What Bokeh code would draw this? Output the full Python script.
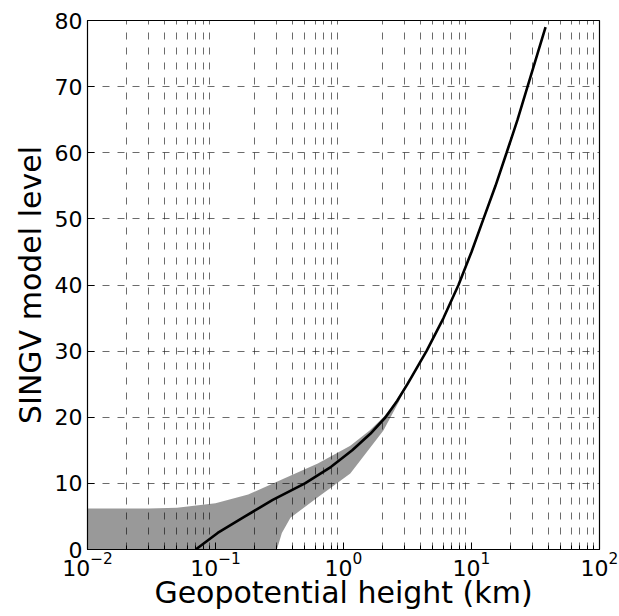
from bokeh.plotting import figure
from bokeh.models import FixedTicker, Range1d
from bokeh.embed import file_html
from bokeh.resources import INLINE

# ---- data ----
model_level = [0, 2.5, 5, 7.5, 10, 12.5, 15, 17.5, 20, 22.5, 25, 30, 35, 40,
               45, 50, 55, 60, 65, 70, 75, 79]
height_km = [0.07, 0.104, 0.17, 0.28, 0.50, 0.80, 1.17, 1.62, 2.13, 2.63, 3.16,
             4.45, 6.04, 7.91, 10.0, 12.4, 15.4, 18.8, 22.9, 27.4, 32.8, 37.9]

# spread band: left (low-height) edge and right (high-height) edge, bottom to top
band_left_km = [0.001, 0.001, 0.03, 0.05, 0.1, 0.18, 0.34, 0.63, 1.13, 1.6, 2.05, 2.55, 3.3]
band_left_level = [0, 6.2, 6.2, 6.3, 7.0, 8.3, 10.7, 13.0, 15.7, 18.0, 20.0, 22.3, 26.0]
band_right_km = [0.30, 0.305, 0.33, 0.385, 0.63, 1.13, 2.05, 2.7, 3.3]
band_right_level = [0, 0.3, 2.5, 4.8, 7.9, 11.5, 18.0, 22.3, 26.0]

x_decades = [1e-2, 1e-1, 1e0, 1e1, 1e2]
y_ticks = [0, 10, 20, 30, 40, 50, 60, 70, 80]
x_minor = [m * d for d in x_decades[:-1] for m in range(2, 10)]

FONT = "DejaVu Sans"

p = figure(width=619, height=616, x_axis_type="log",
           x_range=Range1d(1e-2, 1e2), y_range=Range1d(0, 80),
           toolbar_location=None, output_backend="svg",
           min_border_left=87, min_border_right=20,
           min_border_top=20, min_border_bottom=67)
p.background_fill_color = "white"
p.border_fill_color = "white"
p.outline_line_color = "black"
p.outline_line_width = 1.2

# band polygon
band_x = band_left_km + band_right_km[::-1]
band_y = band_left_level + band_right_level[::-1]
p.patch(band_x, band_y, fill_color="black", fill_alpha=0.4, line_color=None)

# mean curve
p.line(height_km, model_level, line_color="black", line_width=2.6)

# grids
p.xgrid.ticker = FixedTicker(ticks=x_minor)
p.xgrid.grid_line_color = "#222222"
p.xgrid.grid_line_width = 0.9
p.xgrid.grid_line_dash = "7 8"
p.xgrid.grid_line_alpha = 0.75
p.ygrid.ticker = FixedTicker(ticks=y_ticks)
p.ygrid.grid_line_color = "#222222"
p.ygrid.grid_line_width = 0.9
p.ygrid.grid_line_dash = "7 8"
p.ygrid.grid_line_alpha = 0.75

# axes
p.xaxis.ticker = FixedTicker(ticks=x_decades, minor_ticks=x_minor)
p.yaxis.ticker = FixedTicker(ticks=y_ticks)
for ax in (p.xaxis, p.yaxis):
    ax.axis_line_color = "black"
    ax.major_tick_line_color = "black"
    ax.minor_tick_line_color = "black"
    ax.major_tick_in = 7
    ax.major_tick_out = 0
    ax.minor_tick_in = 4
    ax.minor_tick_out = 0
    ax.major_label_text_font = FONT
    ax.major_label_text_font_size = "22px"
    ax.major_label_text_color = "black"
    ax.axis_label_text_font = FONT
    ax.axis_label_text_font_size = "30px"
    ax.axis_label_text_font_style = "normal"
    ax.axis_label_text_color = "black"

p.xaxis.major_label_standoff = 2
p.xaxis.axis_label_standoff = -4
p.yaxis.major_label_standoff = 5
p.yaxis.axis_label_standoff = 4

p.xaxis.axis_label = "Geopotential height (km)"
p.yaxis.axis_label = "SINGV model level"

open("out.html", "w").write(file_html(p, INLINE))
